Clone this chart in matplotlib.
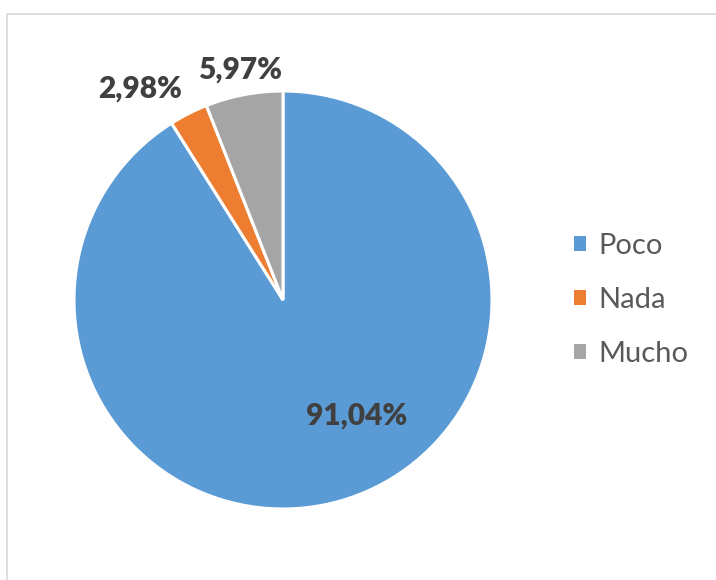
import matplotlib.pyplot as plt
from matplotlib.patches import Rectangle

labels = ['Poco', 'Nada', 'Mucho']
values = [91.04, 2.98, 5.97]
colors = ['#5B9BD5', '#ED7D31', '#A5A5A5']
pct_text = ['91,04%', '2,98%', '5,97%']
# label positions (data coords, pie radius = 1)
pct_pos = [(0.354, -0.555), (-0.684, 1.012), (-0.206, 1.105)]

plt.rcParams['font.family'] = ['Lato', 'DejaVu Sans']

fig = plt.figure(figsize=(7.16, 5.80), dpi=100)
fig.patches.append(Rectangle((7 / 716, -0.1), 2, (580 - 14) / 580 + 0.1,
                             transform=fig.transFigure, fill=False,
                             edgecolor='#d9d9d9', lw=1.2))

ax = fig.add_axes([(283 - 209) / 716, (580 - 509) / 580, 418 / 716, 418 / 580])
wedges, _ = ax.pie(values, colors=colors, startangle=90, counterclock=False,
                   wedgeprops=dict(edgecolor='white', linewidth=2.2))
ax.set_xlim(-1, 1)
ax.set_ylim(-1, 1)
ax.set_aspect('equal')

for t, (x, y) in zip(pct_text, pct_pos):
    ax.text(x, y, t, ha='center', va='center', fontsize=21.5,
            fontweight='heavy', color='#404040', clip_on=False)

leg = fig.legend(wedges, labels, loc='center left',
                 bbox_to_anchor=(574 / 716, 1 - 300 / 580), frameon=False,
                 fontsize=21, handlelength=0.42, handleheight=0.42,
                 labelspacing=0.97, handletextpad=0.4, borderpad=0,
                 borderaxespad=0, labelcolor='#595959')
for h in leg.legend_handles:
    h.set_edgecolor('none')

fig.savefig('out.png', dpi=100)
